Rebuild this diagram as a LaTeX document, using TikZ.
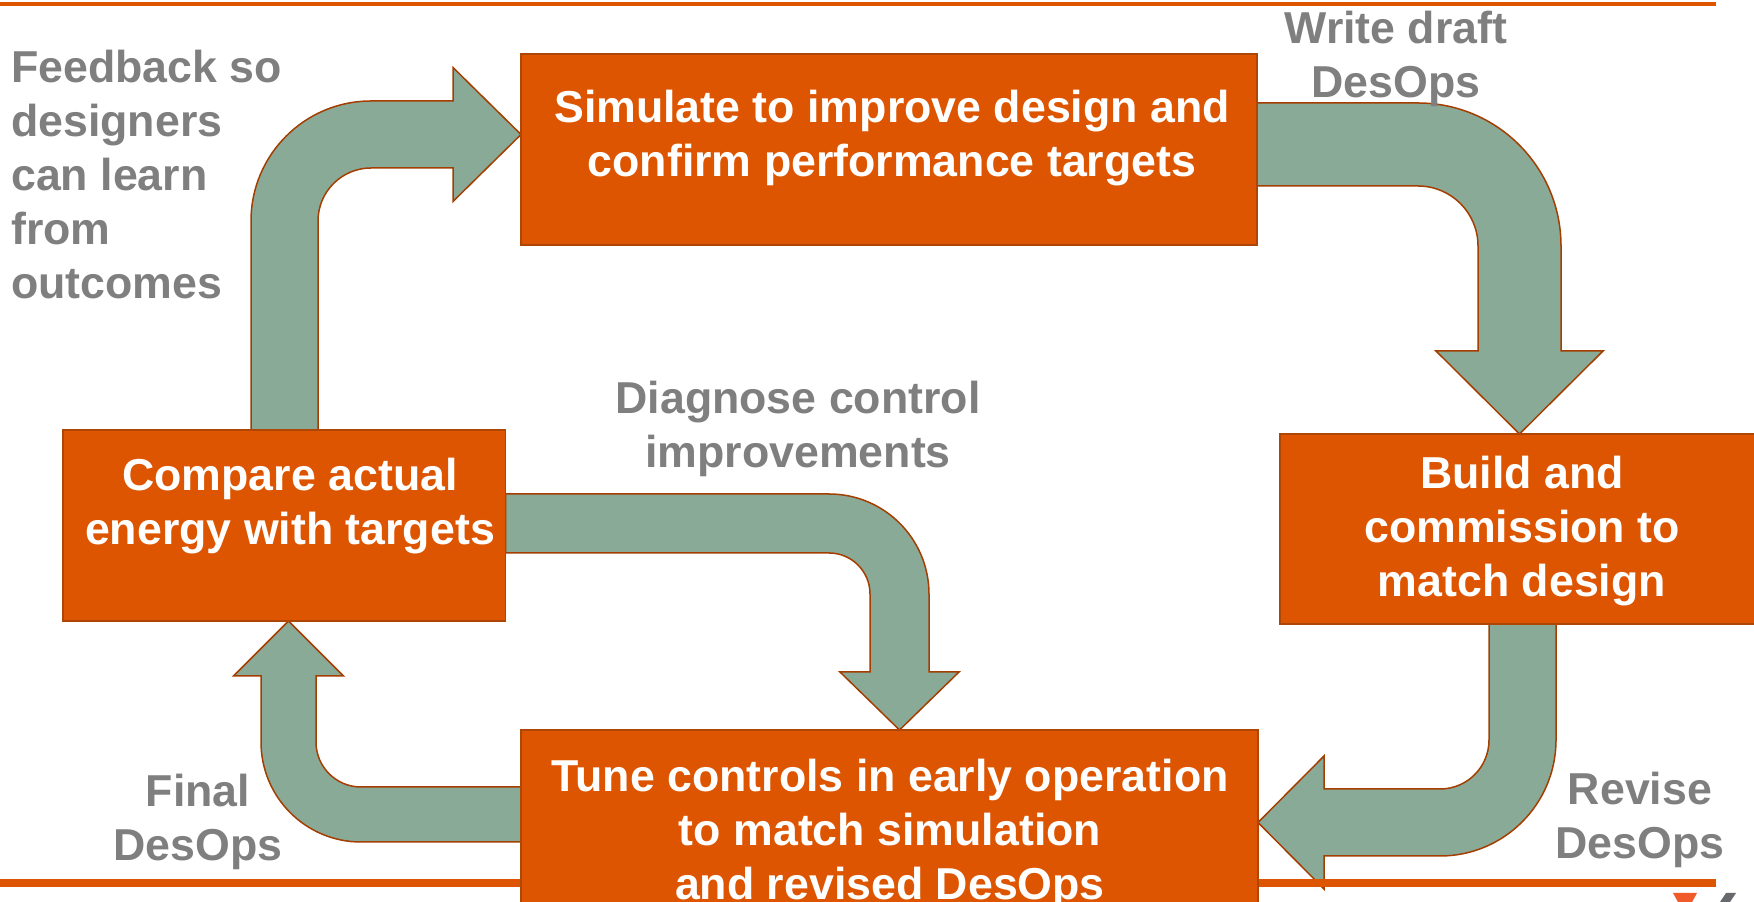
\documentclass[tikz,border=0pt]{standalone}
\usepackage{fontspec}
\setmainfont{Liberation Sans}
\usetikzlibrary{backgrounds}
\definecolor{boxfill}{HTML}{DD5500}
\definecolor{boxline}{HTML}{AE4606}
\definecolor{arrowfill}{HTML}{8AAA98}
\definecolor{arrowline}{HTML}{A33E00}
\definecolor{labelgray}{HTML}{7F7F7F}
\definecolor{rulecolor}{HTML}{DD5500}
\definecolor{logoorange}{HTML}{F15A29}
\definecolor{logogray}{HTML}{68696C}
\newcommand\bigbold{\fontsize{44.7pt}{54pt}\selectfont\bfseries}
\tikzset{
	procbox/.style={draw=boxline, fill=boxfill, line width=1.5pt, inner sep=0pt, outer sep=0pt},
	bentarrow/.style={draw=arrowline, fill=arrowfill, line width=1.5pt, line join=miter},
	boxtext/.style={text=white, font=\bigbold, align=center, inner sep=0pt, anchor=north},
	steplabel/.style={text=labelgray, font=\bigbold, align=center, inner sep=0pt, anchor=north}
}

\begin{document}
\begin{tikzpicture}[x=1pt, y=1pt]
		%%%%% START %%%%%
		\useasboundingbox (0,0) rectangle (1754,902);
		
		\node[procbox, minimum width=736pt, minimum height=191pt] (sim) at (889, 752.5) {};
		\node[procbox, minimum width=482pt, minimum height=190pt] (build) at (1521, 373) {};
		\node[procbox, minimum width=442.5pt, minimum height=191pt] (cmp) at (284.25, 376.5) {};
		\node[procbox, minimum width=737pt, minimum height=195pt] (tune) at (889.5, 74.5) {};
		
		\node[boxtext] (simtxt) at (892, 817.8) {\strut Simulate to improve design and\\confirm performance targets};
		\node[boxtext] (buildtxt) at (1522, 451.8) {\strut Build and\\commission to\\match design};
		\node[boxtext] (cmptxt) at (290, 449.8) {\strut Compare actual\\energy with targets};
		\node[boxtext] (tunetxt) at (890, 148.8) {\strut Tune controls in early operation\\to match simulation\\and revised DesOps};
		
		\node[steplabel, align=left, anchor=north west] (fbk) at (11, 857.8) {\strut Feedback so\\designers\\can learn\\from\\outcomes};
		\node[steplabel] (wrt) at (1396, 896.8) {\strut Write draft\\DesOps};
		\node[steplabel] (diag) at (798, 526.8) {\strut Diagnose control\\improvements};
		\node[steplabel] (fin) at (198, 133.8) {\strut Final\\DesOps};
		\node[steplabel] (rev) at (1640, 135.8) {\strut Revise\\DesOps};
		
		\begin{scope}[on background layer]
		% simulate -> build
		\draw[bentarrow] (sim.east |- 0,799) -- (1418, 799) arc (90:0:143) -- (1561, 551) -- (1603, 551)
			-- (build.north -| 1519.5,0) -- (1436, 551) -- (1478, 551) -- (1478, 656) arc (0:90:60)
			-- (sim.east |- 0,716) -- cycle;
		% build -> tune
		\draw[bentarrow] (build.south -| 1556,0) -- (1556, 162) arc (0:-90:116) -- (1324, 46) -- (1324, 13)
			-- (tune.east |- 0,79.5) -- (1324, 146) -- (1324, 113) -- (1440, 113) arc (-90:0:49)
			-- (build.south -| 1489,0) -- cycle;
		% tune -> compare
		\draw[bentarrow] (tune.west |- 0,115) -- (361, 115) arc (270:180:45) -- (316, 226) -- (343.5, 226)
			-- (cmp.south -| 288.5,0) -- (233.5, 226) -- (261, 226) -- (261, 160) arc (180:270:100)
			-- (tune.west |- 0,60) -- cycle;
		% compare -> simulate
		\draw[bentarrow] (cmp.north -| 251,0) -- (251, 681) arc (180:90:120) -- (453, 801) -- (453, 834.5)
			-- (sim.west |- 0,767.5) -- (453, 700.5) -- (453, 734) -- (371, 734) arc (90:180:53)
			-- (cmp.north -| 318,0) -- cycle;
		% compare -> tune
		\draw[bentarrow] (cmp.east |- 0,408) -- (829, 408) arc (90:0:100) -- (929, 230) -- (959, 230)
			-- (tune.north -| 899.5,0) -- (840, 230) -- (870, 230) -- (870, 308) arc (0:90:41)
			-- (cmp.east |- 0,349) -- cycle;
		
		\fill[rulecolor] (0, 896) rectangle (1716, 900);
		\fill[rulecolor] (0, 15) rectangle (1716, 23);
		\end{scope}
		
		\fill[logoorange] (1673, 9) -- (1697, 9) -- (1685, -13) -- cycle;
		\fill[logogray] (1726, 9) -- (1736, 9) -- (1730, 0) -- (1720, 0) -- cycle;
		
		%%%%% END %%%%%
\end{tikzpicture}
\end{document}
